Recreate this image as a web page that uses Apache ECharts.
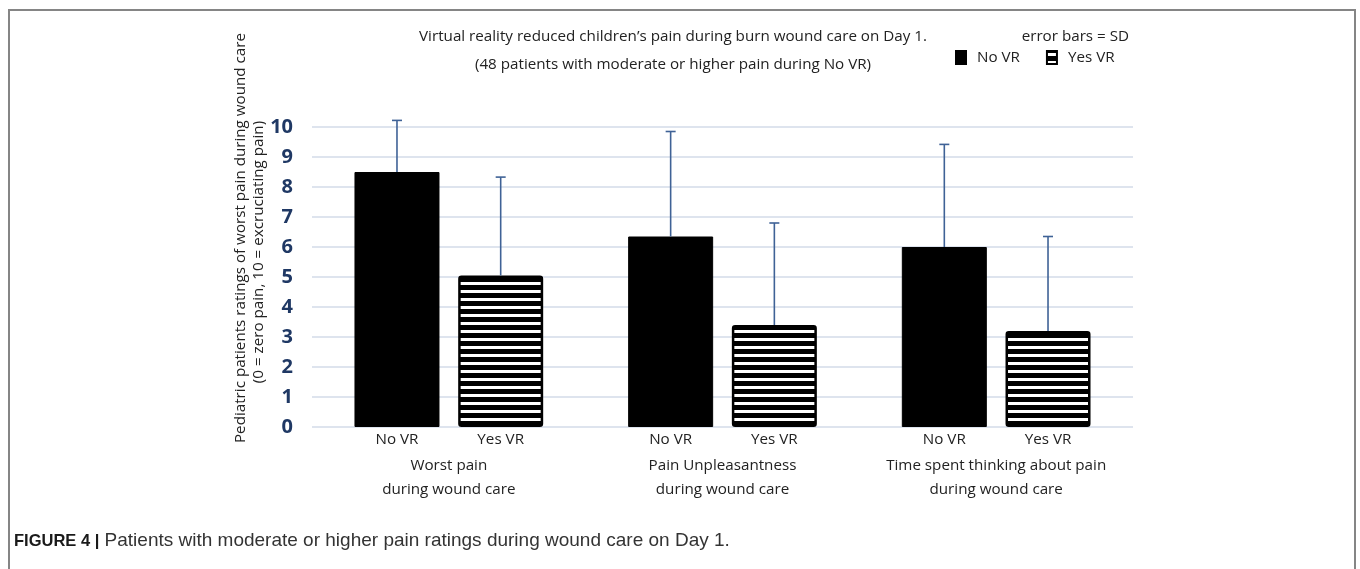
<!DOCTYPE html>
<html>
<head>
<meta charset="utf-8">
<script src="https://cdn.jsdelivr.net/npm/echarts@6/dist/echarts.min.js"></script>
<style>
html,body{margin:0;padding:0;background:#fff;}
#chart{width:1360px;height:569px;}
</style>
</head>
<body>
<div id="chart"></div>
<script>
// ---- data ----
const categories = ["Worst pain\nduring wound care", "Pain Unpleasantness\nduring wound care", "Time spent thinking about pain\nduring wound care"];
const seriesNames = ["No VR", "Yes VR"];
const noVR = [8.5, 6.35, 6.0];
const yesVR = [5.05, 3.4, 3.2];
const noVRsd = [1.72, 3.5, 3.42];
const yesVRsd = [3.28, 3.4, 3.15];
const yTicks = [0, 1, 2, 3, 4, 5, 6, 7, 8, 9, 10];

const FONT = "Open Sans";
const FS = 15.2;
const BAR_W = 85;
const BAR_GAP = 0.22;

// striped pattern for Yes VR
const pc = document.createElement('canvas');
pc.width = 8; pc.height = 8;
const pctx = pc.getContext('2d');
pctx.fillStyle = '#000'; pctx.fillRect(0, 0, 8, 8);
pctx.fillStyle = '#fff'; pctx.fillRect(0, 2, 8, 3);
const stripe = { image: pc, repeat: 'repeat' };

function errSeries(vals, sds, sign) {
  return {
    type: 'custom',
    z: 5,
    silent: true,
    data: vals.map((v, i) => [i, v, v + sds[i]]),
    renderItem: function (params, api) {
      const i = api.value(0);
      const p0 = api.coord([i, api.value(1)]);
      const p1 = api.coord([i, api.value(2)]);
      const off = sign * (BAR_W + BAR_W * BAR_GAP) / 2;
      const x = p0[0] + off;
      const style = { stroke: '#3f6296', lineWidth: 1.6, fill: null };
      return {
        type: 'group',
        children: [
          { type: 'line', shape: { x1: x, y1: p0[1], x2: x, y2: p1[1] }, style: style },
          { type: 'line', shape: { x1: x - 5, y1: p1[1], x2: x + 5, y2: p1[1] }, style: style }
        ]
      };
    }
  };
}

const chart = echarts.init(document.getElementById('chart'));
chart.setOption({
  animation: false,
  backgroundColor: '#fff',
  textStyle: { fontFamily: FONT },
  title: [
    { text: "Virtual reality reduced children\u2019s pain during burn wound care on Day 1.", left: 668, top: 24, textAlign: 'center',
      textStyle: { fontFamily: FONT, fontSize: FS, fontWeight: 'normal', color: '#222' } },
    { text: "(48 patients with moderate or higher pain during No VR)", left: 668, top: 52, textAlign: 'center',
      textStyle: { fontFamily: FONT, fontSize: FS, fontWeight: 'normal', color: '#222' } },
    { text: "error bars = SD", left: 1124, top: 24, textAlign: 'right',
      textStyle: { fontFamily: FONT, fontSize: FS, fontWeight: 'normal', color: '#222' } }
  ],
  legend: {
    left: 955, top: 50, padding: 0,
    data: seriesNames,
    icon: 'rect',
    itemWidth: 10, itemHeight: 13,
    itemGap: 26,
    textStyle: { fontFamily: FONT, fontSize: FS, color: '#222', padding: [0, 0, 0, 6] }
  },
  grid: { left: 312, right: 227, top: 127, bottom: 142 },
  xAxis: {
    type: 'category',
    data: categories,
    axisLine: { show: false },
    axisTick: { show: false },
    axisLabel: { interval: 0, margin: 27, fontFamily: FONT, fontSize: FS, color: '#222', lineHeight: 24 }
  },
  yAxis: {
    type: 'value',
    min: 0, max: 10, interval: 1,
    axisLine: { show: false },
    axisTick: { show: false },
    splitLine: { lineStyle: { color: '#d3dbe9', width: 1.6 } },
    axisLabel: { margin: 19, fontFamily: FONT, fontWeight: 'bold', fontSize: 20, color: '#1f3864',
      formatter: v => yTicks.includes(v) ? String(v) : '' }
  },
  series: [
    { name: seriesNames[0], type: 'bar', data: noVR, barWidth: BAR_W, barGap: (BAR_GAP * 100) + '%', z: 3,
      itemStyle: { color: '#000', borderColor: '#000', borderWidth: 1 },
      label: { show: true, position: 'bottom', distance: 5, formatter: '{a}', fontFamily: FONT, fontSize: FS, color: '#222' } },
    { name: seriesNames[1], type: 'bar', data: yesVR, barWidth: BAR_W, z: 3,
      itemStyle: { color: stripe, borderColor: '#000', borderWidth: 2.5, borderRadius: 2 },
      label: { show: true, position: 'bottom', distance: 5, formatter: '{a}', fontFamily: FONT, fontSize: FS, color: '#222' } },
    errSeries(noVR, noVRsd, -1),
    errSeries(yesVR, yesVRsd, 1)
  ],
  graphic: [
    { type: 'polyline', silent: true, shape: { points: [[9, 569], [9, 10], [1355, 10], [1355, 569]] },
      style: { stroke: '#858585', lineWidth: 2, fill: null } },
    { type: 'text', x: 241, y: 238, rotation: Math.PI / 2, silent: true,
      style: { text: 'Pediatric patients ratings of worst pain during wound care', fontFamily: FONT, fontSize: FS, fill: '#222',
        align: 'center', verticalAlign: 'middle' } },
    { type: 'text', x: 259, y: 252, rotation: Math.PI / 2, silent: true,
      style: { text: '(0 = zero pain, 10 = excruciating pain)', fontFamily: FONT, fontSize: FS, fill: '#222',
        align: 'center', verticalAlign: 'middle' } },
    { type: 'text', x: 14, y: 541, silent: true,
      style: { text: '{b|FIGURE 4 |} Patients with moderate or higher pain ratings during wound care on Day 1.',
        fontFamily: 'Liberation Sans', fontSize: 19, fill: '#333', verticalAlign: 'middle',
        rich: { b: { fontFamily: 'Liberation Sans', fontWeight: 'bold', fontSize: 16.5, fill: '#1a1a1a' } } } }
  ]
});
</script>
</body>
</html>
